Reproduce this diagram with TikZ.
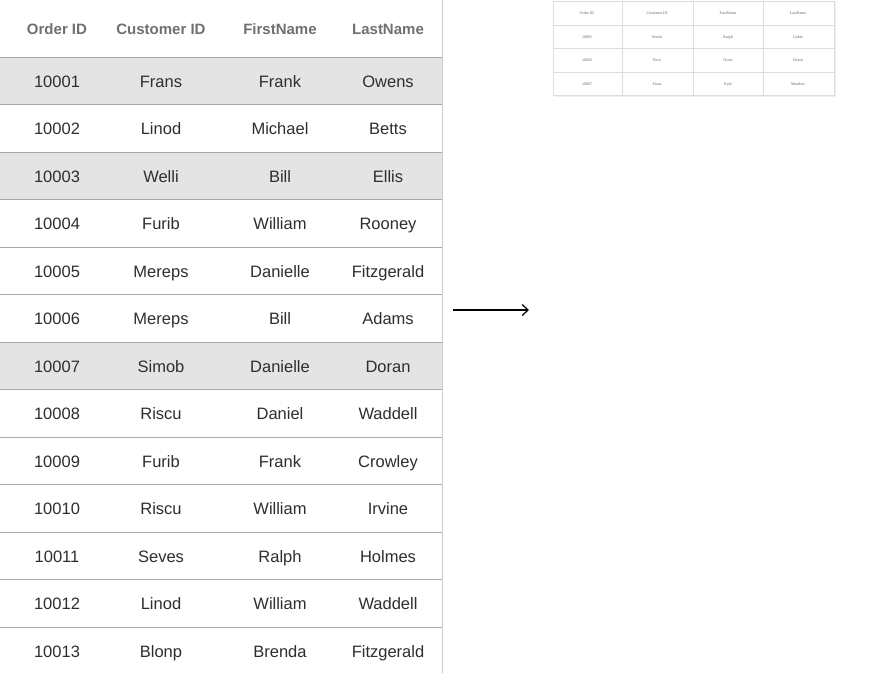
\documentclass[tikz,border=0pt]{standalone}
\usepackage{fontspec}
\setmainfont{Liberation Serif}
\newfontfamily\tabfont{Liberation Sans}
\usetikzlibrary{arrows.meta}
\definecolor{rowshade}{HTML}{E4E4E4}
\definecolor{gridline}{HTML}{A8A8A8}
\definecolor{headtext}{HTML}{707070}
\definecolor{celltext}{HTML}{2E2E2E}
\definecolor{smallgrid}{HTML}{DDDDDD}
\definecolor{smalltext}{HTML}{666666}
\begin{document}
\begin{tikzpicture}[x=1pt,y=-1pt,
  headcell/.style={font=\tabfont\fontsize{15}{18}\selectfont\bfseries, text=headtext, inner sep=0pt, text height=11pt, text depth=3pt},
  datacell/.style={font=\tabfont\fontsize{16.5}{19}\selectfont, text=celltext, inner sep=0pt, text height=12pt, text depth=3.5pt},
  rowline/.style={draw=gridline, line width=0.9pt},
  smallcell/.style={font=\fontsize{4}{5}\selectfont, text=smalltext, inner sep=0pt, text height=3pt, text depth=1pt},
  smallline/.style={draw=smallgrid, line width=0.6pt}]
\useasboundingbox (0,0) rectangle (892,673);
\fill[white] (0,0) rectangle (892,673);
% shaded rows
\foreach \r in {1,3,7}{
  \fill[rowshade] (0,{57+(\r-1)*47.5}) rectangle (442,{57+\r*47.5});
}
% row lines
\foreach \r in {0,...,12}{
  \draw[rowline] (0,{57+\r*47.5}) -- (442,{57+\r*47.5});
}
\draw[draw=gridline!60, line width=0.9pt] (442,0) -- (442,673);
% header
\node[headcell] (h1) at (57,30) {Order ID};
\node[headcell] (h2) at (161,30) {Customer ID};
\node[headcell] (h3) at (280,30) {FirstName};
\node[headcell] (h4) at (388,30) {LastName};
% data
\foreach \i/\a/\b/\c/\d in {1/10001/Frans/Frank/Owens,
  2/10002/Linod/Michael/Betts,
  3/10003/Welli/Bill/Ellis,
  4/10004/Furib/William/Rooney,
  5/10005/Mereps/Danielle/Fitzgerald,
  6/10006/Mereps/Bill/Adams,
  7/10007/Simob/Danielle/Doran,
  8/10008/Riscu/Daniel/Waddell,
  9/10009/Furib/Frank/Crowley,
  10/10010/Riscu/William/Irvine,
  11/10011/Seves/Ralph/Holmes,
  12/10012/Linod/William/Waddell,
  13/10013/Blonp/Brenda/Fitzgerald}{
  \node[datacell] (r\i c1) at (57,{59+(\i-0.5)*47.5}) {\a};
  \node[datacell] (r\i c2) at (161,{59+(\i-0.5)*47.5}) {\b};
  \node[datacell] (r\i c3) at (280,{59+(\i-0.5)*47.5}) {\c};
  \node[datacell] (r\i c4) at (388,{59+(\i-0.5)*47.5}) {\d};
}
% arrow
\coordinate (as) at (453,310);
\coordinate (ae) at (529,310);
\draw[line width=1.2pt, -{Straight Barb[length=6pt,width=11pt]}] (as) -- (ae);
% small table
\fill[black!6] (554,2) rectangle (836,97);
\draw[smallline, fill=white] (553,1) rectangle (834,95);
\foreach \y in {25,48.5,72}{
  \draw[smallline] (553,\y) -- (834,\y);
}
\foreach \x in {622,693,763}{
  \draw[smallline] (\x,1) -- (\x,95);
}
\foreach \i/\y/\a/\b/\c/\d in {0/13/Order ID/Customer ID/FirstName/LastName,
  1/37/10001/Wards/Ralph/Gable,
  2/60/10003/Picco/Oscar/Doran,
  3/84/10007/Frans/Kyle/Menders}{
  \node[smallcell] (s\i c1) at (587,\y) {\a};
  \node[smallcell] (s\i c2) at (657,\y) {\b};
  \node[smallcell] (s\i c3) at (728,\y) {\c};
  \node[smallcell] (s\i c4) at (798,\y) {\d};
}
\end{tikzpicture}
\end{document}
